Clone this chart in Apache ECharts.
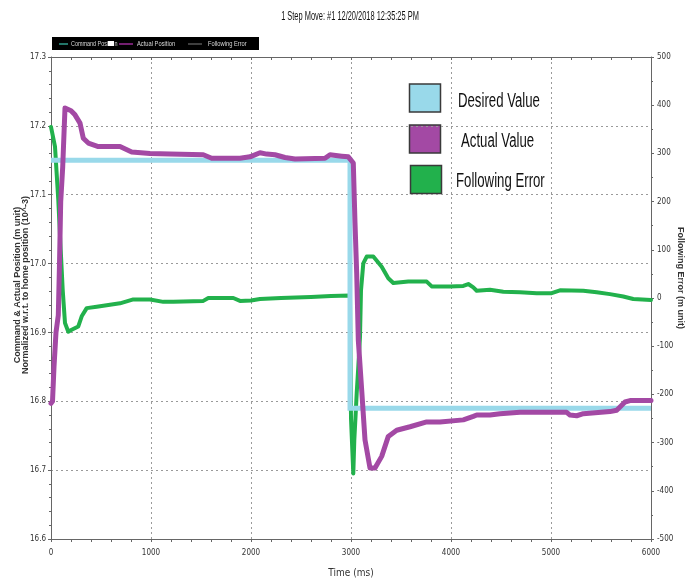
<!DOCTYPE html>
<html>
<head>
<meta charset="utf-8">
<script src="https://cdn.jsdelivr.net/npm/echarts@6/dist/echarts.min.js"></script>
<style>
html,body{margin:0;padding:0;background:#fff;}
#chart{width:690px;height:578px;}
</style>
</head>
<body>
<div id="chart"></div>
<script>
// ---- data ----
const chartTitle = '1 Step Move: #1 12/20/2018 12:35:25 PM';
const seriesNames = ['Desired Value', 'Actual Value', 'Following Error'];
const topLegendNames = ['Command Posi', 'n', 'Actual Position', 'Following Error'];

// Desired (command) position, left axis (10^-3 m unit)
const desiredT = [0, 2990, 2990, 6000];
const desiredV = [17.15, 17.15, 16.79, 16.79];

// Actual position, left axis
const actualT = [0, 15, 30, 50, 73, 85, 97, 117, 140, 157, 200, 240, 290, 323, 373, 473, 690, 807, 990, 1190, 1523, 1607, 1890, 1990, 2090, 2157, 2240, 2340, 2440, 2740, 2790, 2907, 2973, 3023, 3040, 3057, 3073, 3107, 3140, 3190, 3240, 3307, 3373, 3457, 3590, 3757, 3890, 4123, 4223, 4257, 4390, 4490, 4690, 5157, 5190, 5257, 5323, 5590, 5657, 5740, 5790, 6000];
const actualV = [16.797, 16.80, 16.85, 16.90, 16.925, 17.00, 17.09, 17.14, 17.226, 17.228, 17.222, 17.216, 17.204, 17.182, 17.175, 17.170, 17.170, 17.162, 17.160, 17.159, 17.158, 17.153, 17.153, 17.155, 17.161, 17.159, 17.158, 17.154, 17.152, 17.153, 17.158, 17.156, 17.155, 17.146, 17.059, 16.986, 16.889, 16.816, 16.744, 16.703, 16.703, 16.720, 16.749, 16.758, 16.763, 16.770, 16.770, 16.773, 16.778, 16.780, 16.780, 16.782, 16.784, 16.784, 16.780, 16.779, 16.782, 16.785, 16.787, 16.799, 16.801, 16.801];

// Following error, right axis (m unit)
const errorT = [0, 40, 73, 97, 117, 140, 173, 207, 273, 307, 357, 457, 590, 690, 823, 990, 1123, 1223, 1523, 1573, 1823, 1890, 2000, 2090, 2300, 2600, 2800, 2990, 3000, 3007, 3023, 3033, 3047, 3057, 3073, 3090, 3100, 3123, 3157, 3223, 3307, 3373, 3423, 3573, 3757, 3807, 3990, 4123, 4173, 4223, 4257, 4390, 4523, 4690, 4857, 5007, 5090, 5323, 5457, 5590, 5723, 5823, 6000];
const errorV = [355, 314, 203, 100, 17, -52, -70, -66, -59, -38, -21, -18, -14, -11, -3, -3, -8, -8, -6, 0, 0, -6, -5, -2, 0, 2, 4, 5, -250, -253, -364, -295, -239, -198, -143, -80, 16, 72, 86, 86, 65, 41, 31, 34, 34, 24, 24, 25, 29, 22, 15, 17, 13, 12, 10, 10, 16, 15, 12, 8, 3, -2, -4];

// axis ranges
const xMin = 0, xMax = 6000, xStep = 1000;
const yLeftMin = 16.6, yLeftMax = 17.3, yLeftStep = 0.1;
const yRightMin = -500, yRightMax = 500, yRightStep = 100;

const zip = (t, v) => t.map((x, i) => [x, v[i]]);

const narrow = "'Liberation Sans Narrow','Arial Narrow','DejaVu Sans Condensed',sans-serif";
const axisGray = '#666';

const chart = echarts.init(document.getElementById('chart'), null, {renderer: 'canvas'});

const option = {
  animation: false,
  backgroundColor: '#ffffff',
  grid: {left: 51, right: 39, top: 57, bottom: 39, containLabel: false, outerBoundsMode: 'none'},
  xAxis: [
    {
      type: 'value', min: xMin, max: xMax, interval: xStep, position: 'bottom',
      axisLine: {show: true, onZero: false, lineStyle: {color: axisGray, width: 1}},
      axisTick: {show: true, length: 3, lineStyle: {color: axisGray}},
      minorTick: {show: true, splitNumber: 5, length: 3, lineStyle: {color: axisGray}},
      splitLine: {show: true, lineStyle: {color: '#9a9a9a', type: [2, 3], width: 1}},
      axisLabel: {fontSize: 8, color: '#333', margin: 10, fontFamily: narrow,
        formatter: v => String(v)},
      name: 'Time (ms)', nameLocation: 'middle', nameGap: 29, nameMoveOverlap: false,
      nameTextStyle: {fontSize: 10, color: '#333', fontFamily: narrow}
    },
    {
      type: 'value', min: xMin, max: xMax, interval: xStep, position: 'top',
      axisLine: {show: true, onZero: false, lineStyle: {color: axisGray, width: 1}},
      axisTick: {show: true, inside: true, length: 3, lineStyle: {color: axisGray}},
      minorTick: {show: true, splitNumber: 5, length: 3, lineStyle: {color: axisGray}},
      splitLine: {show: false},
      axisLabel: {show: false}
    }
  ],
  yAxis: [
    {
      type: 'value', min: yLeftMin, max: yLeftMax, interval: yLeftStep, position: 'left',
      axisLine: {show: true, onZero: false, lineStyle: {color: axisGray, width: 1}},
      axisTick: {show: true, length: 3, lineStyle: {color: axisGray}},
      minorTick: {show: true, splitNumber: 5, length: 2, lineStyle: {color: axisGray}},
      splitLine: {show: true, lineStyle: {color: '#9a9a9a', type: [2, 3], width: 1}},
      axisLabel: {fontSize: 8, color: '#333', margin: 5, fontFamily: narrow,
        formatter: v => v.toFixed(1)},
      name: 'Command & Actual Position (m unit)\nNormalized w.r.t. to home position (10^-3)',
      nameLocation: 'middle', nameRotate: 90, nameGap: 21, nameMoveOverlap: false,
      nameTextStyle: {fontSize: 9, fontWeight: 'bold', color: '#333', lineHeight: 8,
        padding: [0, 0, 0, 26],
        fontFamily: "'Liberation Sans',Arial,sans-serif"}
    },
    {
      type: 'value', min: yRightMin, max: yRightMax, interval: yRightStep, position: 'right',
      axisLine: {show: true, onZero: false, lineStyle: {color: axisGray, width: 1}},
      axisTick: {show: true, length: 3, lineStyle: {color: axisGray}},
      minorTick: {show: true, splitNumber: 2, length: 2, lineStyle: {color: axisGray}},
      splitLine: {show: false},
      axisLabel: {fontSize: 8, color: '#333', margin: 6, fontFamily: narrow},
      name: 'Following Error (m unit)',
      nameLocation: 'middle', nameRotate: -90, nameGap: 25, nameMoveOverlap: false,
      nameTextStyle: {fontSize: 9, fontWeight: 'bold', color: '#333',
        padding: [0, 40, 0, 0],
        fontFamily: "'Liberation Sans',Arial,sans-serif"}
    }
  ],
  series: [
    {
      name: seriesNames[2], type: 'line', xAxisIndex: 0, yAxisIndex: 1,
      data: zip(errorT, errorV), showSymbol: false, symbol: 'none', z: 2,
      lineStyle: {color: '#22B14C', width: 4, join: 'round', cap: 'round'}
    },
    {
      name: seriesNames[0], type: 'line', xAxisIndex: 0, yAxisIndex: 0,
      data: zip(desiredT, desiredV), showSymbol: false, symbol: 'none', z: 3,
      lineStyle: {color: '#99D9EA', width: 5, join: 'miter'}
    },
    {
      name: seriesNames[1], type: 'line', xAxisIndex: 0, yAxisIndex: 0,
      data: zip(actualT, actualV), showSymbol: false, symbol: 'none', z: 4,
      lineStyle: {color: '#A349A4', width: 5, join: 'round', cap: 'round'}
    }
  ],
  graphic: [
    // title
    {type: 'text', x: 350, y: 16.5, scaleX: 0.62, z: 10,
      style: {text: chartTitle, font: "12px 'Liberation Sans',Arial,sans-serif",
        fill: '#111', align: 'center', verticalAlign: 'middle'}},
    // original black legend strip
    {type: 'group', z: 10, children: [
      {type: 'rect', shape: {x: 52, y: 37, width: 207, height: 13}, style: {fill: '#000'}},
      {type: 'line', shape: {x1: 59, y1: 44, x2: 68, y2: 44}, style: {stroke: '#2f9c8c', lineWidth: 1.5}},
      {type: 'text', x: 71, y: 44, scaleX: 0.68,
        style: {text: topLegendNames[0], font: "8px 'Liberation Sans',Arial,sans-serif", fill: '#d8d8d8', verticalAlign: 'middle'}},
      {type: 'rect', shape: {x: 108, y: 41, width: 6, height: 5}, style: {fill: '#fff'}},
      {type: 'text', x: 114.5, y: 44, scaleX: 0.68,
        style: {text: topLegendNames[1], font: "8px 'Liberation Sans',Arial,sans-serif", fill: '#d8d8d8', verticalAlign: 'middle'}},
      {type: 'line', shape: {x1: 119, y1: 44, x2: 133, y2: 44}, style: {stroke: '#9a2a96', lineWidth: 1.5}},
      {type: 'text', x: 137, y: 44, scaleX: 0.72,
        style: {text: topLegendNames[2], font: "8px 'Liberation Sans',Arial,sans-serif", fill: '#d8d8d8', verticalAlign: 'middle'}},
      {type: 'line', shape: {x1: 188, y1: 44, x2: 202, y2: 44}, style: {stroke: '#555', lineWidth: 1.5}},
      {type: 'text', x: 208, y: 44, scaleX: 0.72,
        style: {text: topLegendNames[3], font: "8px 'Liberation Sans',Arial,sans-serif", fill: '#d8d8d8', verticalAlign: 'middle'}}
    ]},
    // overlay legend
    {type: 'group', z: 10, children: [
      {type: 'rect', shape: {x: 409.5, y: 84, width: 31, height: 28}, style: {fill: '#99D9EA', stroke: '#3a3a3a', lineWidth: 1.5}},
      {type: 'rect', shape: {x: 409.5, y: 125, width: 31, height: 28}, style: {fill: '#A349A4', stroke: '#3a3a3a', lineWidth: 1.5}},
      {type: 'rect', shape: {x: 410.5, y: 165.5, width: 31, height: 28}, style: {fill: '#22B14C', stroke: '#3a3a3a', lineWidth: 1.5}},
      {type: 'text', x: 458, y: 101, scaleX: 0.66,
        style: {text: seriesNames[0], font: "20px 'Liberation Sans',Arial,sans-serif", fill: '#111', verticalAlign: 'middle'}},
      {type: 'text', x: 461, y: 141.5, scaleX: 0.66,
        style: {text: seriesNames[1], font: "20px 'Liberation Sans',Arial,sans-serif", fill: '#111', verticalAlign: 'middle'}},
      {type: 'text', x: 456, y: 181.5, scaleX: 0.66,
        style: {text: seriesNames[2], font: "20px 'Liberation Sans',Arial,sans-serif", fill: '#111', verticalAlign: 'middle'}}
    ]}
  ]
};

chart.setOption(option);
</script>
</body>
</html>
